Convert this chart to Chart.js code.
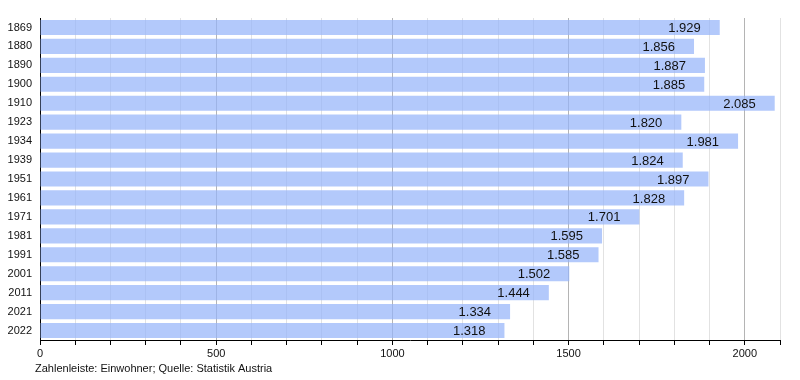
<!DOCTYPE html>
<html>
<head>
<meta charset="utf-8">
<script src="https://cdn.jsdelivr.net/npm/chart.js@4/dist/chart.umd.min.js"></script>
<style>
html,body{margin:0;padding:0;background:#fff;}
#wrap{width:800px;height:380px;position:relative;}
</style>
</head>
<body>
<div id="wrap"><canvas id="c" width="800" height="380"></canvas></div>
<script>
const years = ['1869','1880','1890','1900','1910','1923','1934','1939','1951','1961','1971','1981','1991','2001','2011','2021','2022'];
const population = [1929,1856,1887,1885,2085,1820,1981,1824,1897,1828,1701,1595,1585,1502,1444,1334,1318];
const xTickLabels = [0,500,1000,1500,2000];
const footerText = 'Zahlenleiste: Einwohner; Quelle: Statistik Austria';

const FONT = '"Liberation Sans", Arial, sans-serif';

function fmt(v){
  return String(v).replace(/\B(?=(\d{3})+(?!\d))/g,'.');
}

const valueLabels = {
  id:'valueLabels',
  afterDatasetsDraw(chart){
    const ctx = chart.ctx;
    const meta = chart.getDatasetMeta(0);
    ctx.save();
    ctx.font = '13px ' + FONT;
    ctx.fillStyle = '#111';
    ctx.textAlign = 'right';
    ctx.textBaseline = 'middle';
    meta.data.forEach((bar,i)=>{
      ctx.fillText(fmt(population[i]), bar.x - 19, bar.y + 1);
    });
    ctx.restore();
  }
};

const footer = {
  id:'footer',
  afterDraw(chart){
    const ctx = chart.ctx;
    ctx.save();
    ctx.font = '11px ' + FONT;
    ctx.fillStyle = '#111';
    ctx.textAlign = 'left';
    ctx.textBaseline = 'middle';
    ctx.fillText(footerText, 35, 369);
    ctx.restore();
  }
};

new Chart(document.getElementById('c'), {
  type:'bar',
  data:{
    labels: years,
    datasets:[{
      data: population,
      backgroundColor:'rgba(150,180,250,0.72)',
      borderWidth:0,
      barPercentage:0.8,
      categoryPercentage:1.0
    }]
  },
  options:{
    indexAxis:'y',
    responsive:false,
    animation:false,
    devicePixelRatio:1,
    layout:{padding:{top:18,right:20,bottom:0,left:0}},
    plugins:{legend:{display:false},tooltip:{enabled:false}},
    scales:{
      x:{
        min:0,max:2100,
        afterFit(s){ s.height = 40; },
        afterBuildTicks(s){
          const t=[]; for(let v=0; v<=2100; v+=100) t.push({value:v});
          s.ticks=t;
        },
        ticks:{
          autoSkip:false,
          maxRotation:0,
          padding:2,
          color:'#111',
          font:{family:FONT,size:11},
          callback(v){ return xTickLabels.includes(v) ? String(v) : ''; }
        },
        grid:{
          drawTicks:true,
          tickLength:5,
          tickColor:'#000',
          color(c){ const v=c.tick ? c.tick.value : 0; return v%500===0 ? '#b4b4b4' : '#e2e2e2'; },
          lineWidth:1
        },
        border:{display:true,color:'#000',width:1}
      },
      y:{
        afterFit(s){ s.width = 40; },
        ticks:{
          color:'#111',
          padding:8,
          font:{family:FONT,size:11}
        },
        grid:{display:false,drawTicks:false},
        border:{display:true,color:'#000',width:1}
      }
    }
  },
  plugins:[valueLabels, footer]
});
</script>
</body>
</html>
